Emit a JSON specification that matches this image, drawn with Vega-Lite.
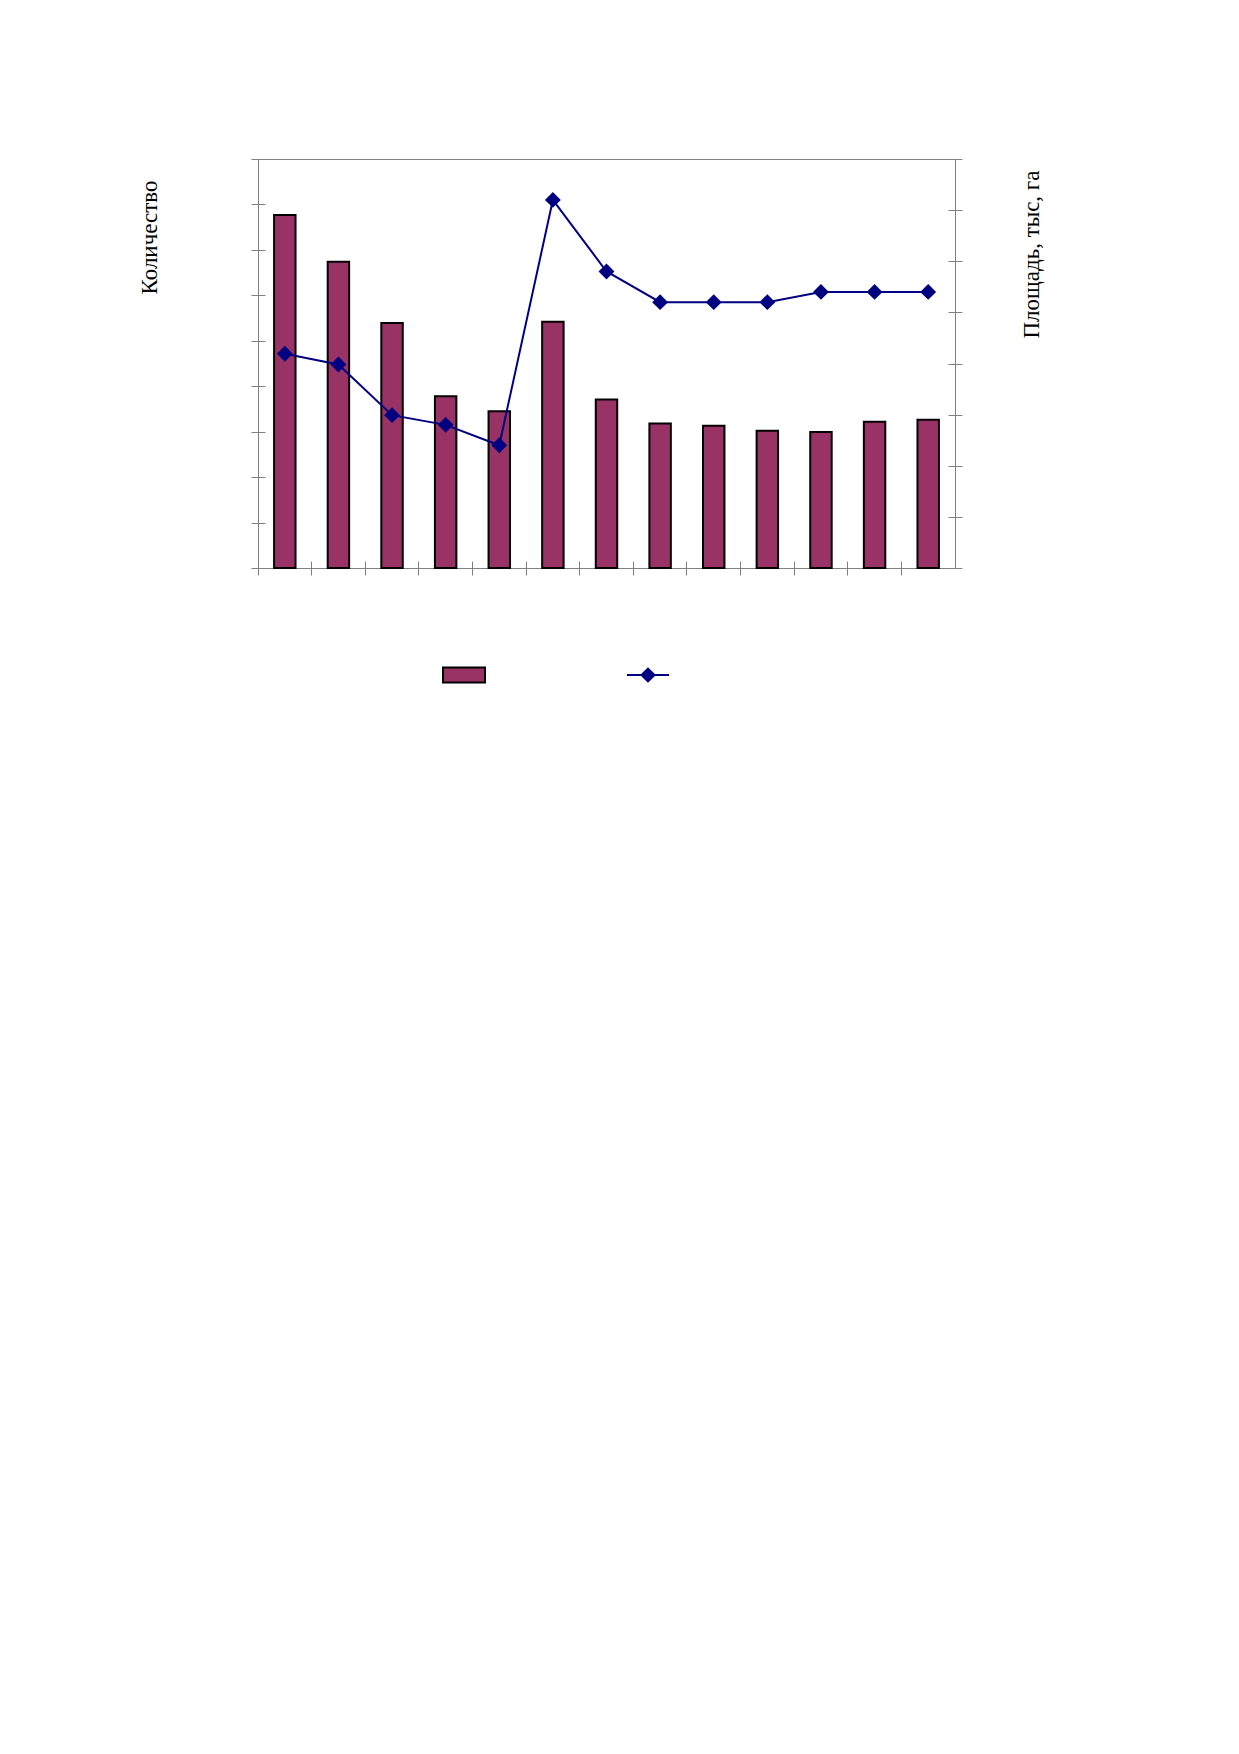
{
  "$schema": "https://vega.github.io/schema/vega-lite/v6.json",
  "width": 697,
  "height": 409,
  "autosize": {"type": "none"},
  "padding": {"left": 258, "top": 159, "right": 284, "bottom": 1186},
  "background": "white",
  "config": {
    "view": {"stroke": "#808080", "strokeWidth": 1},
    "font": "Liberation Serif",
    "axis": {
      "grid": false,
      "domain": false,
      "labels": false,
      "ticks": true,
      "tickColor": "#808080",
      "tickSize": 14,
      "offset": -7,
      "titleFont": "Liberation Serif",
      "titleFontSize": 23,
      "titleFontWeight": "normal",
      "titleColor": "black"
    },
    "legend": {"padding": 0, "labelOffset": 0, "symbolSize": 1764, "title": null}
  },
  "data": {
    "values": [
      {"n": "1", "count": 777, "area": 41.9},
      {"n": "2", "count": 674, "area": 39.8},
      {"n": "3", "count": 539, "area": 29.9},
      {"n": "4", "count": 378, "area": 28.0},
      {"n": "5", "count": 345, "area": 24.0},
      {"n": "6", "count": 542, "area": 72.0},
      {"n": "7", "count": 371, "area": 58.0},
      {"n": "8", "count": 318, "area": 52.0},
      {"n": "9", "count": 313, "area": 52.0},
      {"n": "10", "count": 302, "area": 52.0},
      {"n": "11", "count": 299, "area": 54.0},
      {"n": "12", "count": 322, "area": 54.0},
      {"n": "13", "count": 326, "area": 54.0}
    ]
  },
  "encoding": {
    "x": {
      "field": "n",
      "type": "ordinal",
      "sort": null,
      "scale": {"paddingInner": 0, "paddingOuter": 0},
      "axis": {"title": null, "bandPosition": 0}
    }
  },
  "layer": [
    {
      "mark": {"type": "bar", "width": {"band": 0.4}, "stroke": "black", "strokeWidth": 2},
      "encoding": {
        "y": {
          "field": "count",
          "type": "quantitative",
          "scale": {"domain": [0, 900]},
          "axis": {
            "orient": "left",
            "values": [0, 100, 200, 300, 400, 500, 600, 700, 800, 900],
            "title": "Количество",
            "titleAnchor": "end",
            "titleAlign": "right",
            "titleY": 21,
            "titlePadding": 89
          }
        },
        "fill": {
          "datum": "Количество",
          "scale": {"domain": ["Количество"], "range": ["#993366"]},
          "legend": {
            "orient": "none",
            "legendX": 184,
            "legendY": 494,
            "title": null,
            "labelExpr": "''",
            "symbolType": "M-1,-0.357H1V0.357H-1Z",
            "symbolStrokeColor": "black",
            "symbolStrokeWidth": 2
          }
        }
      }
    },
    {
      "mark": {
        "type": "line",
        "strokeWidth": 2,
        "point": {"filled": true, "shape": "diamond", "size": 170, "opacity": 1, "fill": "#000080"}
      },
      "encoding": {
        "y": {
          "field": "area",
          "type": "quantitative",
          "scale": {"domain": [0, 80]},
          "axis": {
            "orient": "right",
            "values": [0, 10, 20, 30, 40, 50, 60, 70, 80],
            "title": "Площадь, тыс, га",
            "titleAngle": 270,
            "titleBaseline": "top",
            "titleAnchor": "end",
            "titleAlign": "right",
            "titleY": 11,
            "titlePadding": 58
          }
        },
        "stroke": {
          "datum": "Площадь, тыс, га",
          "scale": {"domain": ["Площадь, тыс, га"], "range": ["#000080"]},
          "legend": {
            "orient": "none",
            "legendX": 368,
            "legendY": 494,
            "title": null,
            "labelExpr": "''",
            "symbolType": "M-1,0H1M0,-0.3L0.31,0L0,0.3L-0.31,0Z",
            "symbolFillColor": "#000080",
            "symbolStrokeWidth": 2
          }
        }
      }
    }
  ],
  "resolve": {"scale": {"y": "independent"}}
}
